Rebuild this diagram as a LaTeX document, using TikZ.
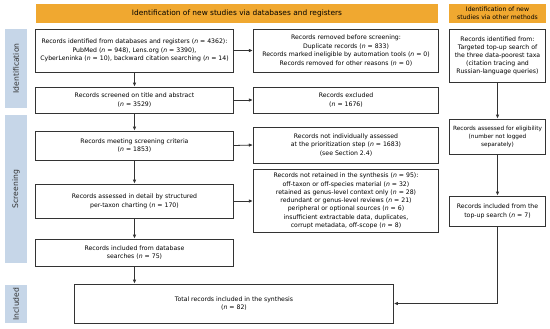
\documentclass[tikz,border=0pt]{standalone}
\usepackage{fontspec}
\setmainfont{DejaVu Sans}
\usetikzlibrary{arrows.meta}
\definecolor{hdrorange}{HTML}{F0A830}
\definecolor{sideblue}{HTML}{C6D6E8}
\definecolor{lin}{HTML}{333333}
\newcommand{\nn}{\textit{n}}
\begin{document}
\begin{tikzpicture}[x=1bp,y=-1bp,
  box/.style={draw=lin,line width=0.8bp,fill=white,align=center,font=\fontsize{6.2}{8.7}\selectfont,inner sep=1bp},
  hdr/.style={fill=hdrorange,align=center,inner sep=1bp},
  side/.style={fill=sideblue,inner sep=0pt},
  sidetxt/.style={rotate=90,font=\fontsize{7.7}{8}\selectfont,text=black!80},
  arr/.style={draw=lin,line width=0.8bp,-{Latex[length=4bp,width=3.5bp]}}]
\useasboundingbox (0,0) rectangle (550,328);
\newcommand{\bx}[6]{\node[#6,minimum width={#4-#2},minimum height={#5-#3}] (#1) at ({(#2+#4)/2},{(#3+#5)/2}) {};}
% headers
\bx{hdrA}{35}{4}{439}{23}{hdr}
\node[font=\fontsize{7.45}{8}\selectfont] at (hdrA) {Identification of new studies via databases and registers};
\bx{hdrB}{449}{4}{546}{23}{hdr}
\node[font=\fontsize{6.2}{7.8}\selectfont,align=center] at (hdrB) {Identification of new\\studies via other methods};
% side labels
\bx{sA}{5}{29}{27}{108}{side}
\node[sidetxt] at (sA) {Identification};
\bx{sB}{5}{115}{27}{263}{side}
\node[sidetxt] at (sB) {Screening};
\bx{sC}{5}{285}{27}{323}{side}
\node[sidetxt] at (sC) {Included};
% boxes
\bx{b1}{35}{29}{234}{72}{box}
\node[box,draw=none,fill=none] at (b1) {Records identified from databases and registers (\nn{} = 4362):\\PubMed (\nn{} = 948), Lens.org (\nn{} = 3390),\\CyberLeninka (\nn{} = 10), backward citation searching (\nn{} = 14)};
\bx{r1}{253}{29}{439}{72}{box}
\node[box,draw=none,fill=none] at (r1) {Records removed before screening:\\Duplicate records (\nn{} = 833)\\Records marked ineligible by automation tools (\nn{} = 0)\\Records removed for other reasons (\nn{} = 0)};
\bx{b2}{35}{87}{234}{113}{box}
\node[box,draw=none,fill=none] at (b2) {Records screened on title and abstract\\(\nn{} = 3529)};
\bx{r2}{253}{87}{439}{113}{box}
\node[box,draw=none,fill=none] at (r2) {Records excluded\\(\nn{} = 1676)};
\bx{b3}{35}{131}{234}{160}{box}
\node[box,draw=none,fill=none] at (b3) {Records meeting screening criteria\\(\nn{} = 1853)};
\bx{r3}{253}{127}{439}{163}{box}
\node[box,draw=none,fill=none] at (r3) {Records not individually assessed\\at the prioritization step (\nn{} = 1683)\\(see Section 2.4)};
\bx{b4}{35}{184}{234}{218}{box}
\node[box,draw=none,fill=none] at (b4) {Records assessed in detail by structured\\per-taxon charting (\nn{} = 170)};
\bx{r4}{253}{169}{439}{233}{box}
\node[box,draw=none,fill=none,font=\fontsize{6.2}{8.3}\selectfont] at (r4) {Records not retained in the synthesis (\nn{} = 95):\\off-taxon or off-species material (\nn{} = 32)\\retained as genus-level context only (\nn{} = 28)\\redundant or genus-level reviews (\nn{} = 21)\\peripheral or optional sources (\nn{} = 6)\\insufficient extractable data, duplicates,\\corrupt metadata, off-scope (\nn{} = 8)};
\bx{b5}{35}{239}{234}{266}{box}
\node[box,draw=none,fill=none] at (b5) {Records included from database\\searches (\nn{} = 75)};
\bx{tot}{74}{284}{394}{323}{box}
\node[box,draw=none,fill=none] at (tot) {Total records included in the synthesis\\(\nn{} = 82)};
\bx{o1}{449}{29}{546}{82}{box}
\node[box,draw=none,fill=none,font=\fontsize{6.2}{8.1}\selectfont] at (o1) {Records identified from:\\Targeted top-up search of\\the three data-poorest taxa\\(citation tracing and\\Russian-language queries)};
\bx{o2}{449}{119}{546}{154}{box}
\node[box,draw=none,fill=none,font=\fontsize{5.8}{8}\selectfont] at (o2) {Records assessed for eligibility\\(number not logged\\separately)};
\bx{o3}{449}{196}{546}{226}{box}
\node[box,draw=none,fill=none] at (o3) {Records included from the\\top-up search (\nn{} = 7)};
% arrows
\draw[arr] (b1.east) -- (r1.west);
\draw[arr] (b2.east) -- (r2.west);
\draw[arr] (b3.east) -- (r3.west);
\draw[arr] (b4.east) -- (r4.west);
\draw[arr] (b1.south) -- (b2.north);
\draw[arr] (b2.south) -- (b3.north);
\draw[arr] (b3.south) -- (b4.north);
\draw[arr] (b4.south) -- (b5.north);
\draw[arr] (b5.south) -- (b5.south |- tot.north);
\draw[arr] (o1.south) -- (o2.north);
\draw[arr] (o2.south) -- (o3.north);
\draw[arr] (o3.south) |- (tot.east);
\end{tikzpicture}
\end{document}
